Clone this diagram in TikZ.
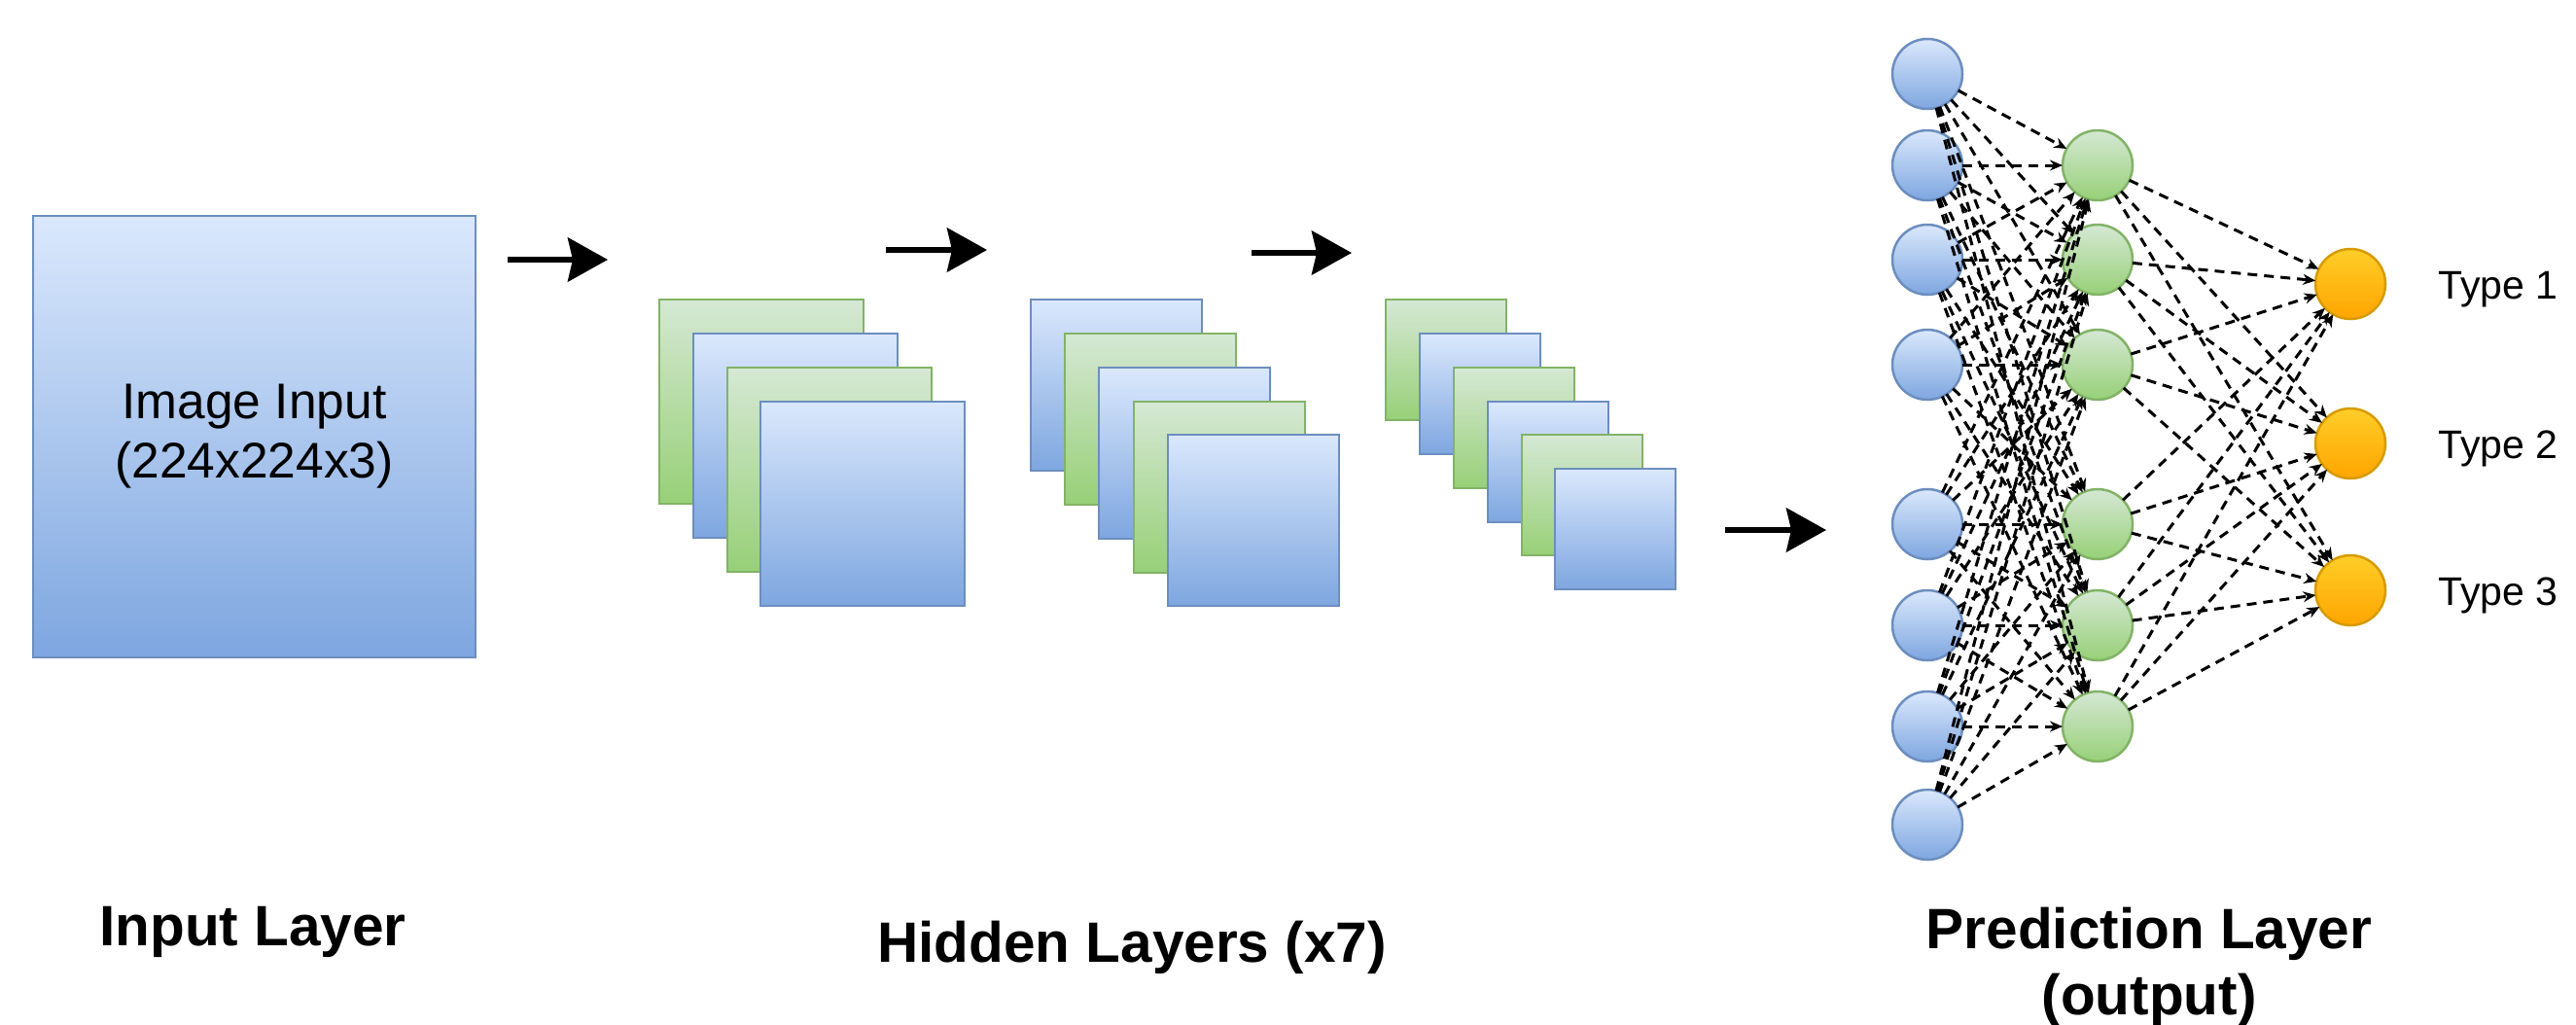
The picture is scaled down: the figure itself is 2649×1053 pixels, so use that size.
\documentclass[tikz,border=0pt]{standalone}
\usepackage{fontspec}
\setmainfont{Liberation Sans}
\usetikzlibrary{arrows.meta}
\definecolor{bluetop}{HTML}{DAE8FC}
\definecolor{bluebot}{HTML}{7EA6E0}
\definecolor{bluestroke}{HTML}{6C8EBF}
\definecolor{greentop}{HTML}{D5E8D4}
\definecolor{greenbot}{HTML}{97D077}
\definecolor{greenstroke}{HTML}{82B366}
\definecolor{orangetop}{HTML}{FFCD28}
\definecolor{orangebot}{HTML}{FFA500}
\definecolor{orangestroke}{HTML}{D79B00}
\begin{document}
\begin{tikzpicture}[x=1pt,y=-1pt,
  sheet/.style={rectangle, anchor=north west, inner sep=0pt, outer sep=0pt,
    line width=2.5pt, minimum width=#1, minimum height=#1},
  bluesheet/.style={sheet=#1, draw=bluestroke, top color=bluetop, bottom color=bluebot},
  greensheet/.style={sheet=#1, draw=greenstroke, top color=greentop, bottom color=greenbot},
  neuron/.style={circle, minimum size=72pt, inner sep=0pt, outer sep=0pt, line width=2.5pt},
  bneuron/.style={neuron, draw=bluestroke, top color=bluetop, bottom color=bluebot},
  gneuron/.style={neuron, draw=greenstroke, top color=greentop, bottom color=greenbot},
  oneuron/.style={neuron, draw=orangestroke, top color=orangetop, bottom color=orangebot},
  conn/.style={line width=3pt, dash pattern=on 10pt off 7pt, -{Stealth[length=13pt,width=11pt]}},
  bigarrow/.style={line width=6pt, -{Stealth[length=41pt,width=45pt,inset=5pt]}},
  boldlabel/.style={font=\bfseries\fontsize{58.5}{70}\selectfont, anchor=base, inner sep=0pt},
  typelabel/.style={font=\fontsize{41}{49}\selectfont, anchor=base west, inner sep=0pt}
]
\useasboundingbox (0,0) rectangle (2649,1053);

% input
\node[bluesheet=455pt, minimum height=454pt, align=center,
  font=\fontsize{51.5}{61}\selectfont] (inp) at (34,222) {Image Input\\(224x224x3)};

% hidden group 1
\node[greensheet=210pt] (h1a) at (678,308) {};
\node[bluesheet=210pt]  (h1b) at (713,343) {};
\node[greensheet=210pt] (h1c) at (748,378) {};
\node[bluesheet=210pt]  (h1d) at (782,413) {};

% hidden group 2
\node[bluesheet=176pt]  (h2a) at (1060,308) {};
\node[greensheet=176pt] (h2b) at (1095,343) {};
\node[bluesheet=176pt]  (h2c) at (1130,378) {};
\node[greensheet=176pt] (h2d) at (1166,413) {};
\node[bluesheet=176pt]  (h2e) at (1201,447) {};

% hidden group 3
\node[greensheet=124pt] (h3a) at (1425,308) {};
\node[bluesheet=124pt]  (h3b) at (1460,343) {};
\node[greensheet=124pt] (h3c) at (1495,378) {};
\node[bluesheet=124pt]  (h3d) at (1530,413) {};
\node[greensheet=124pt] (h3e) at (1565,447) {};
\node[bluesheet=124pt]  (h3f) at (1599,482) {};

% big arrows
\coordinate (a1s) at (522,267); \coordinate (a1e) at (625,267);
\coordinate (a2s) at (911,257); \coordinate (a2e) at (1015,257);
\coordinate (a3s) at (1287,260); \coordinate (a3e) at (1390,260);
\coordinate (a4s) at (1774,545); \coordinate (a4e) at (1878,545);
\draw[bigarrow] (a1s) -- (a1e);
\draw[bigarrow] (a2s) -- (a2e);
\draw[bigarrow] (a3s) -- (a3e);
\draw[bigarrow] (a4s) -- (a4e);

% network nodes
\foreach \y [count=\i] in {76,170,267,375,539,643,747,848}
  \node[bneuron] (b\i) at (1982,\y) {};
\foreach \y [count=\i] in {170,267,375,539,643,747}
  \node[gneuron] (g\i) at (2157,\y) {};
\foreach \y [count=\i] in {292,456,607}
  \node[oneuron] (o\i) at (2417,\y) {};

% connections
\foreach \i in {1,...,8}
  \foreach \j in {1,...,6}
    \draw[conn] (b\i) -- (g\j);
\foreach \j in {1,...,6}
  \foreach \k in {1,2,3}
    \draw[conn] (g\j) -- (o\k);

% type labels
\node[typelabel] (t1) at (2507,307) {Type 1};
\node[typelabel] (t2) at (2507,471) {Type 2};
\node[typelabel] (t3) at (2507,622) {Type 3};

% layer labels
\node[boldlabel] (linput) at (260,972) {Input Layer};
\node[boldlabel] (lhidden) at (1164,989) {Hidden Layers (x7)};
\node[boldlabel] (lpred) at (2210,975) {Prediction Layer};
\node[boldlabel] (lout) at (2210,1043) {(output)};
\end{tikzpicture}
\end{document}
